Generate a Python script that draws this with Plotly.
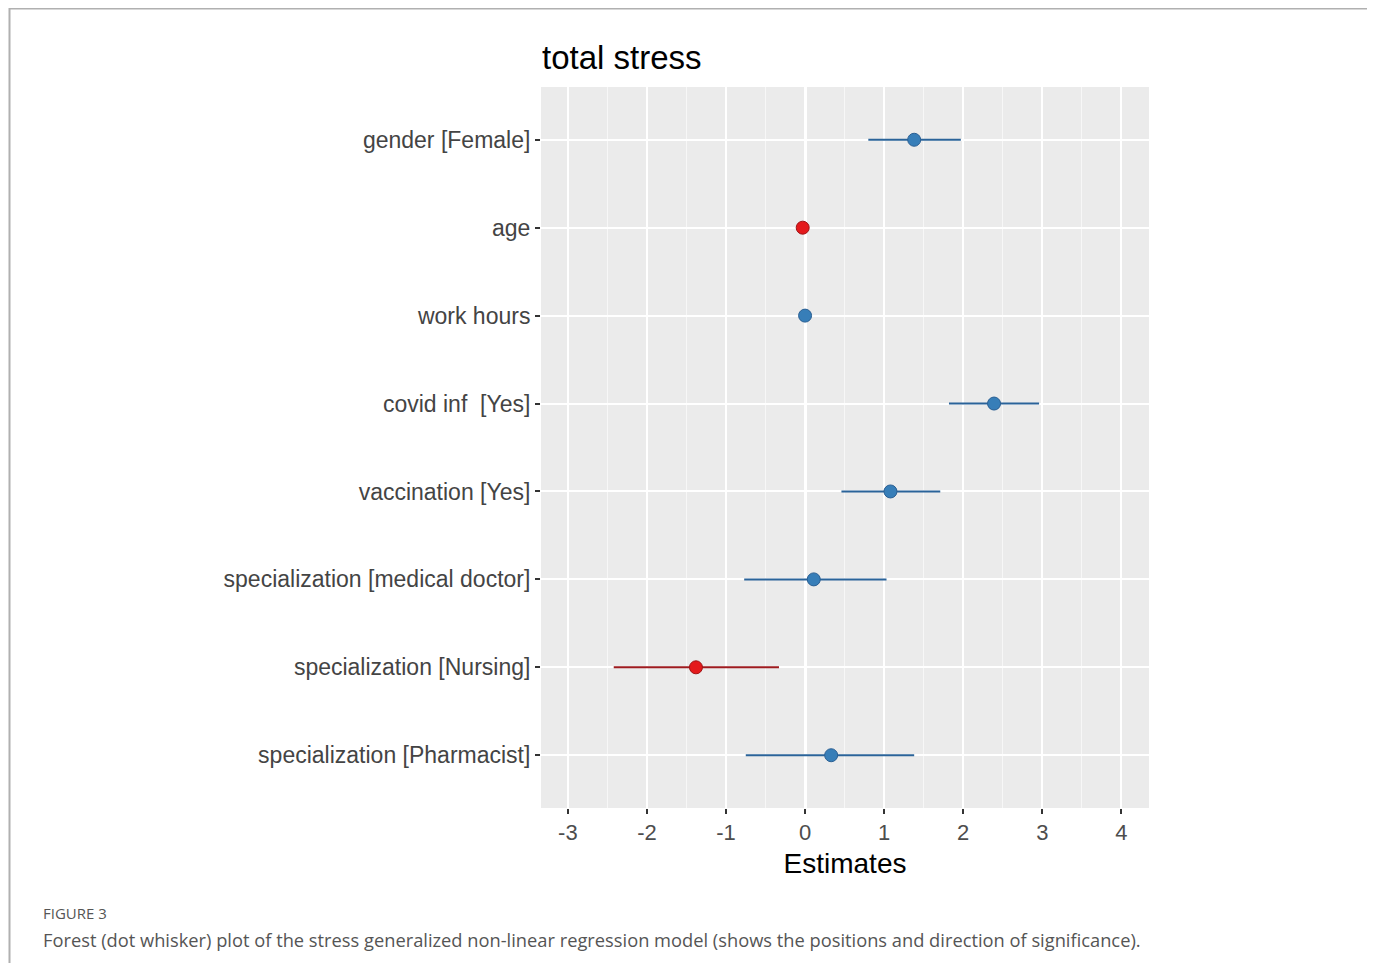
import plotly.graph_objects as go

terms = ["gender [Female]", "age", "work hours", "covid inf  [Yes]", "vaccination [Yes]",
         "specialization [medical doctor]", "specialization [Nursing]", "specialization [Pharmacist]"]
estimates = [1.38, -0.03, 0.00, 2.39, 1.08, 0.11, -1.38, 0.33]
ci_low = [0.80, -0.05, -0.02, 1.82, 0.46, -0.77, -2.42, -0.75]
ci_high = [1.97, -0.01, 0.02, 2.96, 1.71, 1.03, -0.33, 1.38]
significant_positive = [True, False, True, True, True, True, False, True]
x_ticks = [-3, -2, -1, 0, 1, 2, 3, 4]

# page body has an 8px margin; keep the figure inside the viewport
OFF = 8
W, H = 1363, 971 - 2 * OFF
px0, px1 = 541 - OFF, 1149 - OFF
py0, py1 = 87 - OFF, 808 - OFF


def fx(p):
    return (p - OFF) / W


def fy(p):
    return 1 - (p - OFF) / H


fig = go.Figure()

groups = [
    (True, "#377eb8", "#2a6399", "#2a5f93"),
    (False, "#e41a1c", "#9e1b1f", "#a01416"),
]
for flag, mcol, lcol, ocol in groups:
    idx = [i for i in range(len(terms)) if significant_positive[i] == flag]
    fig.add_trace(go.Scatter(
        x=[estimates[i] for i in idx],
        y=[terms[i] for i in idx],
        mode="markers",
        marker=dict(color=mcol, size=13, line=dict(color=ocol, width=1)),
        error_x=dict(type="data", symmetric=False,
                     array=[ci_high[i] - estimates[i] for i in idx],
                     arrayminus=[estimates[i] - ci_low[i] for i in idx],
                     color=lcol, thickness=2, width=0),
        showlegend=False,
        hoverinfo="x+y",
    ))

fig.update_layout(
    width=W, height=H,
    margin=dict(l=0, r=0, t=0, b=0),
    paper_bgcolor="white",
    plot_bgcolor="#ebebeb",
    font=dict(family="Liberation Sans, Arial, sans-serif", color="#4d4d4d"),
    xaxis=dict(
        domain=[px0 / W, px1 / W],
        range=[-3.34, 4.35],
        tickvals=x_ticks,
        ticktext=[str(v) for v in x_ticks],
        tickfont=dict(size=22, color="#4d4d4d"),
        ticks="outside", ticklen=5, tickcolor="#333333", tickwidth=1.5,
        showgrid=True, gridcolor="white", gridwidth=2,
        minor=dict(dtick=0.5, tick0=-3.5, showgrid=True, gridcolor="#f7f7f7", gridwidth=1),
        zeroline=True, zerolinecolor="white", zerolinewidth=3,
        showline=False,
        title=dict(text="Estimates", font=dict(size=28, color="black"), standoff=8),
        fixedrange=True,
    ),
    yaxis=dict(
        domain=[1 - py1 / H, 1 - py0 / H],
        type="category",
        categoryorder="array",
        categoryarray=terms,
        range=[7.6, -0.6],
        tickfont=dict(size=23, color="#444444"),
        ticks="outside", ticklen=5, tickcolor="#333333", tickwidth=1.5,
        showgrid=True, gridcolor="white", gridwidth=2,
        zeroline=False, showline=False,
        fixedrange=True,
    ),
    shapes=[
        dict(type="rect", xref="paper", yref="paper",
             x0=fx(9.5), x1=fx(1369.5), y0=-0.02, y1=fy(8.5),
             line=dict(color="#b0b0b0", width=2), fillcolor="rgba(0,0,0,0)", layer="below"),
    ],
    annotations=[
        dict(text="total stress", xref="paper", yref="paper",
             x=fx(540), y=fy(58), xanchor="left", yanchor="middle",
             showarrow=False, font=dict(size=33, color="black", family="Liberation Sans, Arial, sans-serif")),
        dict(text="FIGURE 3", xref="paper", yref="paper",
             x=fx(41), y=fy(913), xanchor="left", yanchor="middle",
             showarrow=False, font=dict(size=15, color="#555555", family="Open Sans, sans-serif")),
        dict(text="Forest (dot whisker) plot of the stress generalized non-linear regression model (shows the positions and direction of significance).",
             xref="paper", yref="paper",
             x=fx(41), y=fy(939), xanchor="left", yanchor="middle",
             showarrow=False, font=dict(size=18.3, color="#555555", family="Open Sans, sans-serif")),
    ],
)

fig.write_html("out.html")
